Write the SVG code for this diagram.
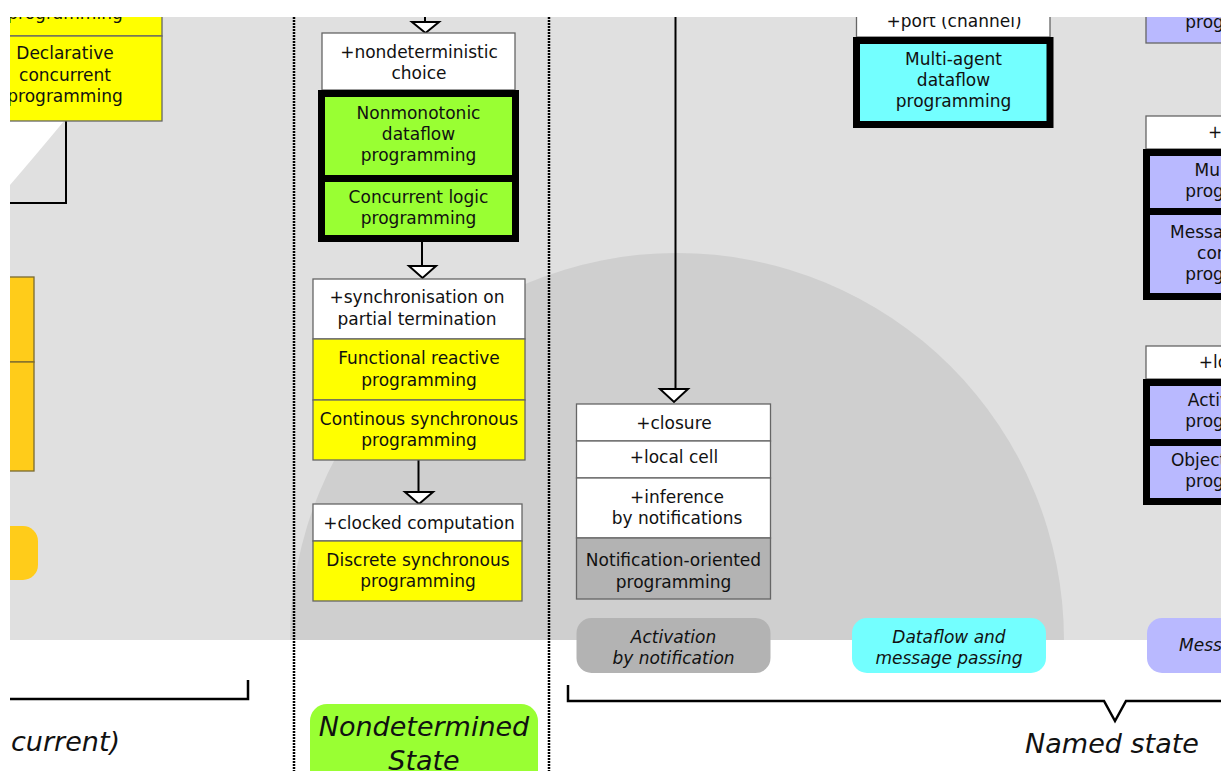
<svg xmlns="http://www.w3.org/2000/svg" width="1221" height="771" viewBox="0 0 1221 771">
  <defs>
    <clipPath id="page">
      <rect x="10" y="17" width="1211" height="754"/>
    </clipPath>
    <clipPath id="field">
      <rect x="10" y="17" width="1211" height="623"/>
    </clipPath>
    <style>
      text { font-family: "DejaVu Sans", "Liberation Sans", sans-serif; font-size: 17px; fill: #111; text-anchor: middle; }
      .lbl { font-style: italic; }
      .big { font-style: italic; font-size: 27px; text-anchor: start; }
      .bigc { font-style: italic; font-size: 27px; }
      .feat { fill: #ffffff; stroke: #666; stroke-width: 1.3; }
      .yel { fill: #ffff00; stroke: #666; stroke-width: 1.3; }
      .org { fill: #ffcc1a; stroke: #7a6a30; stroke-width: 1.3; }
      .grn { fill: #99ff33; stroke: #000; stroke-width: 7; }
      .cyn { fill: #73ffff; stroke: #000; stroke-width: 7; }
      .pur { fill: #b9b9ff; stroke: #000; stroke-width: 7; }
      .purthin { fill: #b9b9ff; stroke: #666; stroke-width: 1.3; }
      .gry { fill: #b3b3b3; stroke: #666; stroke-width: 1.3; }
      .wire { fill: none; stroke: #000; stroke-width: 2; }
      .head { fill: #ffffff; stroke: #000; stroke-width: 2; stroke-linejoin: miter; }
      .dots { stroke: #000; stroke-width: 2.5; stroke-dasharray: 2 1; }
      .brace { fill: none; stroke: #000; stroke-width: 2.5; }
    </style>
  </defs>

  <rect width="1221" height="771" fill="#ffffff"/>

  <g clip-path="url(#page)">
    <!-- shaded background regions -->
    <g id="regions" clip-path="url(#field)">
      <rect x="10" y="17" width="1211" height="623" fill="#e0e0e0"/>
      <path d="M0,110 L64,121 Q40,150 10,185 L0,190 Z" fill="#ffffff"/>
      <circle cx="677" cy="640" r="387" fill="#cfcfcf"/>
    </g>

    <!-- connectors -->
    <g id="connectors">
      <path class="wire" d="M66,121 V203 H0"/>
      <path class="wire" d="M425,10 V22"/>
      <path class="head" d="M412,22 H439 L425.5,33 Z"/>
      <path class="wire" d="M422,242 V266"/>
      <path class="head" d="M409,266 H436 L422.5,278 Z"/>
      <path class="wire" d="M418.5,460 V492"/>
      <path class="head" d="M405,492 H433 L419,504 Z"/>
      <path class="wire" d="M675.5,10 V389"/>
      <path class="head" d="M660,389 H688 L674,402 Z"/>
    </g>

    <!-- left column -->
    <g id="n-left-top">
      <rect class="yel" x="-32" y="-20" width="194" height="56"/>
      <text x="65" y="19">programming</text>
    </g>
    <g id="n-declarative-concurrent">
      <rect class="yel" x="-32" y="36" width="194" height="85"/>
      <text x="65" y="59">Declarative</text>
      <text x="65" y="81">concurrent</text>
      <text x="65" y="102">programming</text>
    </g>
    <g id="n-left-orange-a">
      <rect class="org" x="-160" y="277" width="194" height="85"/>
    </g>
    <g id="n-left-orange-b">
      <rect class="org" x="-160" y="362" width="194" height="109"/>
    </g>
    <g id="n-left-orange-label">
      <rect x="-156" y="526" width="194" height="54" rx="15" fill="#ffcc1a"/>
    </g>

    <!-- nondetermined state column -->
    <g id="n-nondeterministic-choice">
      <rect class="feat" x="322" y="33" width="193" height="57"/>
      <text x="419" y="58">+nondeterministic</text>
      <text x="419" y="79">choice</text>
    </g>
    <g id="n-nonmonotonic-dataflow">
      <rect class="grn" x="321.5" y="93.5" width="194" height="85"/>
      <text x="418.5" y="119">Nonmonotonic</text>
      <text x="418.5" y="140">dataflow</text>
      <text x="418.5" y="161">programming</text>
    </g>
    <g id="n-concurrent-logic">
      <rect class="grn" x="321.5" y="178.5" width="194" height="60"/>
      <text x="418.5" y="203">Concurrent logic</text>
      <text x="418.5" y="224">programming</text>
    </g>
    <g id="n-sync-partial-termination">
      <rect class="feat" x="313" y="279" width="212" height="60"/>
      <text x="417" y="303">+synchronisation on</text>
      <text x="417" y="325">partial termination</text>
    </g>
    <g id="n-functional-reactive">
      <rect class="yel" x="313" y="339" width="212" height="61"/>
      <text x="419" y="364">Functional reactive</text>
      <text x="419" y="386">programming</text>
    </g>
    <g id="n-continous-synchronous">
      <rect class="yel" x="313" y="400" width="212" height="60"/>
      <text x="419" y="425">Continous synchronous</text>
      <text x="419" y="446">programming</text>
    </g>
    <g id="n-clocked-computation">
      <rect class="feat" x="313" y="504" width="209" height="37"/>
      <text x="419" y="529">+clocked computation</text>
    </g>
    <g id="n-discrete-synchronous">
      <rect class="yel" x="313" y="541" width="209" height="60"/>
      <text x="418" y="566">Discrete synchronous</text>
      <text x="418" y="587">programming</text>
    </g>
    <g id="n-nondetermined-state">
      <rect x="310" y="704" width="228" height="100" rx="17" fill="#99ff33"/>
      <text class="bigc" x="424" y="736">Nondetermined</text>
      <text class="bigc" x="424" y="770">State</text>
    </g>

    <!-- notification column -->
    <g id="n-closure">
      <rect class="feat" x="576.5" y="404" width="194" height="37"/>
      <text x="674" y="429">+closure</text>
    </g>
    <g id="n-local-cell">
      <rect class="feat" x="576.5" y="441" width="194" height="37"/>
      <text x="674" y="463">+local cell</text>
    </g>
    <g id="n-inference-notifications">
      <rect class="feat" x="576.5" y="478" width="194" height="60"/>
      <text x="677" y="503">+inference</text>
      <text x="677" y="524">by notifications</text>
    </g>
    <g id="n-notification-oriented">
      <rect class="gry" x="576.5" y="538" width="194" height="61"/>
      <text x="673.5" y="566">Notification-oriented</text>
      <text x="673.5" y="588">programming</text>
    </g>
    <g id="n-activation-notification">
      <rect x="576.5" y="618" width="194" height="55" rx="15" fill="#b3b3b3"/>
      <text class="lbl" x="673.5" y="643">Activation</text>
      <text class="lbl" x="673.5" y="664">by notification</text>
    </g>

    <!-- dataflow and message passing column -->
    <g id="n-port-channel">
      <rect class="feat" x="856.5" y="0" width="193.5" height="37"/>
      <text x="954" y="27">+port (channel)</text>
    </g>
    <g id="n-multi-agent-dataflow">
      <rect class="cyn" x="856.5" y="40.5" width="193.5" height="84"/>
      <text x="953.5" y="65">Multi-agent</text>
      <text x="953.5" y="86">dataflow</text>
      <text x="953.5" y="107">programming</text>
    </g>
    <g id="n-dataflow-message-passing">
      <rect x="852" y="618" width="194" height="55" rx="15" fill="#73ffff"/>
      <text class="lbl" x="949" y="643">Dataflow and</text>
      <text class="lbl" x="949" y="664">message passing</text>
    </g>

    <!-- message passing column -->
    <g id="n-right-top">
      <rect class="purthin" x="1146" y="-20" width="194" height="63"/>
      <text x="1243" y="28">programming</text>
    </g>
    <g id="n-thread">
      <rect class="feat" x="1146" y="116" width="194" height="33"/>
      <text x="1243" y="138">+thread</text>
    </g>
    <g id="n-multi-agent">
      <rect class="pur" x="1146.5" y="152.5" width="194" height="59"/>
      <text x="1243" y="176">Multi-agent</text>
      <text x="1243" y="197">programming</text>
    </g>
    <g id="n-message-passing-concurrent">
      <rect class="pur" x="1146.5" y="211.5" width="194" height="85"/>
      <text x="1243" y="238">Message-passing</text>
      <text x="1243" y="259">concurrent</text>
      <text x="1243" y="280">programming</text>
    </g>
    <g id="n-local-cell-right">
      <rect class="feat" x="1146" y="346" width="194" height="33"/>
      <text x="1243" y="368">+local cell</text>
    </g>
    <g id="n-active-object">
      <rect class="pur" x="1146.5" y="382.5" width="194" height="60"/>
      <text x="1243" y="406">Active object</text>
      <text x="1243" y="427">programming</text>
    </g>
    <g id="n-object-capability">
      <rect class="pur" x="1146.5" y="442.5" width="194" height="59"/>
      <text x="1243" y="466">Object-capability</text>
      <text x="1243" y="487">programming</text>
    </g>
    <g id="n-message-passing">
      <rect x="1147" y="618" width="194" height="55" rx="15" fill="#b9b9ff"/>
      <text class="lbl" x="1179" y="651" style="text-anchor:start">Message passing</text>
    </g>

    <!-- dividers and braces -->
    <g id="dividers">
      <line class="dots" x1="294" y1="17" x2="294" y2="771"/>
      <line class="dots" x1="549" y1="17" x2="549" y2="771"/>
    </g>
    <g id="brace-left">
      <path class="brace" d="M0,699 H248 V680"/>
      <text class="big" x="11" y="751">current)</text>
    </g>
    <g id="brace-named-state">
      <path class="brace" d="M568,685 V701 H1104 L1115,721 L1126,701 H1230"/>
      <text class="bigc" x="1112" y="753">Named state</text>
    </g>
  </g>
</svg>
